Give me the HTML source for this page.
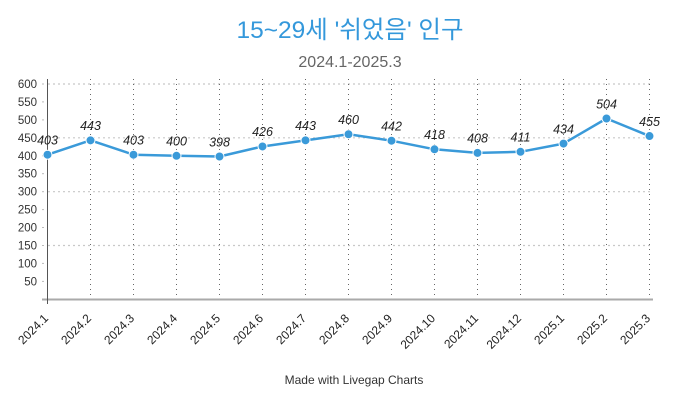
<!DOCTYPE html>
<html><head><meta charset="utf-8">
<style>
html,body{margin:0;padding:0;background:#fff;}
svg{display:block;}
text{font-family:"Liberation Sans","Noto Sans CJK KR",sans-serif;}
</style></head>
<body>
<svg width="700" height="400" viewBox="0 0 700 400" xmlns="http://www.w3.org/2000/svg">
<rect width="700" height="400" fill="#fff"/>
<text x="350" y="38" text-anchor="middle" font-size="24.5" fill="#3498db">15~29세 '쉬었음' 인구</text>
<text x="350" y="67" text-anchor="middle" font-size="16" fill="#666">2024.1-2025.3</text>

<!-- horizontal grid -->
<g stroke="#c8c8c8" stroke-width="1.2" stroke-dasharray="2,3">
<line x1="48" y1="84" x2="653" y2="84"/>
<line x1="48" y1="137.8" x2="653" y2="137.8"/>
<line x1="48" y1="191.7" x2="653" y2="191.7"/>
<line x1="48" y1="245.5" x2="653" y2="245.5"/>
</g>
<!-- vertical grid -->
<g stroke="#666" stroke-width="1" stroke-dasharray="1,4">
<line x1="90.5" y1="79" x2="90.5" y2="304"/>
<line x1="133.5" y1="79" x2="133.5" y2="304"/>
<line x1="176.5" y1="79" x2="176.5" y2="304"/>
<line x1="219.5" y1="79" x2="219.5" y2="304"/>
<line x1="262.5" y1="79" x2="262.5" y2="304"/>
<line x1="305.5" y1="79" x2="305.5" y2="304"/>
<line x1="348.5" y1="79" x2="348.5" y2="304"/>
<line x1="391.5" y1="79" x2="391.5" y2="304"/>
<line x1="434.5" y1="79" x2="434.5" y2="304"/>
<line x1="477.5" y1="79" x2="477.5" y2="304"/>
<line x1="520.5" y1="79" x2="520.5" y2="304"/>
<line x1="563.5" y1="79" x2="563.5" y2="304"/>
<line x1="606.5" y1="79" x2="606.5" y2="304"/>
<line x1="649.5" y1="79" x2="649.5" y2="304"/>
</g>
<!-- x axis -->
<line x1="42" y1="299.5" x2="653" y2="299.5" stroke="#aaa" stroke-width="2"/>
<!-- y axis -->
<line x1="47.5" y1="79" x2="47.5" y2="304" stroke="#555" stroke-width="1"/>

<!-- y ticks -->
<g stroke="#bbb" stroke-width="1">
<line x1="42" y1="84" x2="44" y2="84"/>
<line x1="42" y1="101.9" x2="44" y2="101.9"/>
<line x1="42" y1="119.9" x2="44" y2="119.9"/>
<line x1="42" y1="137.8" x2="44" y2="137.8"/>
<line x1="42" y1="155.8" x2="44" y2="155.8"/>
<line x1="42" y1="173.7" x2="44" y2="173.7"/>
<line x1="42" y1="191.7" x2="44" y2="191.7"/>
<line x1="42" y1="209.6" x2="44" y2="209.6"/>
<line x1="42" y1="227.5" x2="44" y2="227.5"/>
<line x1="42" y1="245.5" x2="44" y2="245.5"/>
<line x1="42" y1="263.4" x2="44" y2="263.4"/>
<line x1="42" y1="281.4" x2="44" y2="281.4"/>
</g>
<g font-size="11.5" fill="#333" text-anchor="end">
<text x="37" y="88">600</text>
<text x="37" y="105.9">550</text>
<text x="37" y="123.9">500</text>
<text x="37" y="141.8">450</text>
<text x="37" y="159.8">400</text>
<text x="37" y="177.7">350</text>
<text x="37" y="195.7">300</text>
<text x="37" y="213.6">250</text>
<text x="37" y="231.5">200</text>
<text x="37" y="249.5">150</text>
<text x="37" y="267.4">100</text>
<text x="37" y="285.4">50</text>
</g>

<!-- x labels -->
<g font-size="12" fill="#222" text-anchor="end">
<text transform="translate(49,319) rotate(-45)">2024.1</text>
<text transform="translate(92,319) rotate(-45)">2024.2</text>
<text transform="translate(135,319) rotate(-45)">2024.3</text>
<text transform="translate(178,319) rotate(-45)">2024.4</text>
<text transform="translate(221,319) rotate(-45)">2024.5</text>
<text transform="translate(264,319) rotate(-45)">2024.6</text>
<text transform="translate(307,319) rotate(-45)">2024.7</text>
<text transform="translate(350,319) rotate(-45)">2024.8</text>
<text transform="translate(393,319) rotate(-45)">2024.9</text>
<text transform="translate(436,319) rotate(-45)">2024.10</text>
<text transform="translate(479,319) rotate(-45)">2024.11</text>
<text transform="translate(522,319) rotate(-45)">2024.12</text>
<text transform="translate(565,319) rotate(-45)">2025.1</text>
<text transform="translate(608,319) rotate(-45)">2025.2</text>
<text transform="translate(651,319) rotate(-45)">2025.3</text>
</g>

<!-- series -->
<polyline fill="none" stroke="#3a9ad9" stroke-width="2.5" stroke-linejoin="round"
points="47.5,154.7 90.5,140.35 133.5,154.7 176.5,155.8 219.5,156.5 262.5,146.45 305.5,140.35 348.5,134.25 391.5,140.7 434.5,149.3 477.5,152.9 520.5,151.8 563.5,143.6 606.5,118.5 649.5,136.05"/>
<g fill="#3a9ad9" stroke="#fff" stroke-width="1">
<circle cx="47.5" cy="154.7" r="4.5"/>
<circle cx="90.5" cy="140.35" r="4.5"/>
<circle cx="133.5" cy="154.7" r="4.5"/>
<circle cx="176.5" cy="155.8" r="4.5"/>
<circle cx="219.5" cy="156.5" r="4.5"/>
<circle cx="262.5" cy="146.45" r="4.5"/>
<circle cx="305.5" cy="140.35" r="4.5"/>
<circle cx="348.5" cy="134.25" r="4.5"/>
<circle cx="391.5" cy="140.7" r="4.5"/>
<circle cx="434.5" cy="149.3" r="4.5"/>
<circle cx="477.5" cy="152.9" r="4.5"/>
<circle cx="520.5" cy="151.8" r="4.5"/>
<circle cx="563.5" cy="143.6" r="4.5"/>
<circle cx="606.5" cy="118.5" r="4.5"/>
<circle cx="649.5" cy="136.05" r="4.5"/>
</g>
<g font-size="12.5" font-style="italic" fill="#222" text-anchor="middle">
<text x="47.5" y="144.5">403</text>
<text x="90.5" y="130">443</text>
<text x="133.5" y="144.5">403</text>
<text x="176.5" y="145.5">400</text>
<text x="219.5" y="146.3">398</text>
<text x="262.5" y="136.2">426</text>
<text x="305.5" y="130">443</text>
<text x="348.5" y="124">460</text>
<text x="391.5" y="130.5">442</text>
<text x="434.5" y="139">418</text>
<text x="477.5" y="142.7">408</text>
<text x="520.5" y="141.5">411</text>
<text x="563.5" y="133.4">434</text>
<text x="606.5" y="108.3">504</text>
<text x="649.5" y="125.8">455</text>
</g>

<text x="354" y="384" text-anchor="middle" font-size="12" fill="#333">Made with Livegap Charts</text>
</svg>
</body></html>
